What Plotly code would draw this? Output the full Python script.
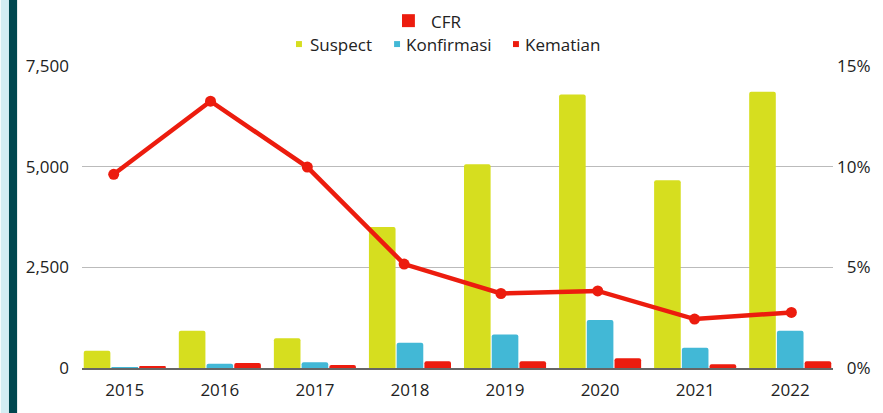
import plotly.graph_objects as go

years = ["2015", "2016", "2017", "2018", "2019", "2020", "2021", "2022"]
suspect = [429, 925, 736, 3504, 5058, 6794, 4662, 6861]
konfirmasi = [20, 107, 141, 630, 835, 1190, 503, 925]
kematian = [42, 124, 74, 168, 168, 240, 95, 168]
cfr = [9.62, 13.25, 9.98, 5.16, 3.70, 3.83, 2.43, 2.76]
left_ticks = [0, 2500, 5000, 7500]
right_ticks = [0, 5, 10, 15]
right_labels = ["\u20070%", "\u20075%", "10%", "15%"]

C_SUS = "#D6DE1F"
C_KON = "#42B8D6"
C_RED = "#EC1C0E"
FONT = "Open Sans"
TXT = "#222222"

W, H = 883, 413
L, R, T, B = 82, 43, 66, 44
PW, PH = W - L - R, H - T - B


def px(x):
    return (x - L) / PW


def py(y):
    return (H - B - y) / PH


idx = list(range(len(years)))
fig = go.Figure()
for name, vals, col in [("Suspect", suspect, C_SUS), ("Konfirmasi", konfirmasi, C_KON), ("Kematian", kematian, C_RED)]:
    fig.add_trace(go.Bar(x=idx, y=vals, name=name, marker=dict(color=col, cornerradius=2, line=dict(width=0)),
                         showlegend=False, xaxis="x", yaxis="y"))

fig.add_trace(go.Scatter(x=idx, y=cfr, name="CFR", mode="lines+markers",
                         line=dict(color=C_RED, width=4.5), marker=dict(color=C_RED, size=11),
                         showlegend=False, xaxis="x2", yaxis="y2"))

fig.update_layout(
    width=W, height=H, margin=dict(l=L, r=R, t=T, b=B),
    paper_bgcolor="white", plot_bgcolor="white",
    barmode="group", bargap=0.125, bargroupgap=0.04,
    font=dict(family=FONT, size=17, color=TXT),
    xaxis=dict(range=[-0.45, 7.45], tickvals=idx, ticktext=years, showgrid=False, zeroline=False,
               showline=True, linecolor="#666666", linewidth=1.5, ticks="", ticklabelstandoff=6,
               tickfont=dict(family=FONT, size=17, color=TXT)),
    xaxis2=dict(range=[-0.3275, 7.43], overlaying="x", visible=False),
    yaxis=dict(range=[0, 7500], tickvals=left_ticks, tickformat=",d", showgrid=True, gridcolor="#BBBBBB",
               gridwidth=1, zeroline=False, showline=False, ticks="", ticklabelstandoff=12,
               tickfont=dict(family=FONT, size=17, color=TXT)),
    yaxis2=dict(range=[0, 15], overlaying="y", side="right", tickmode="array", tickvals=right_ticks,
                ticktext=right_labels, showgrid=False, zeroline=False, showline=False, ticks="",
                ticklabelstandoff=3, tickfont=dict(family=FONT, size=17, color=TXT)),
)

# left decorative strips
fig.add_shape(type="rect", xref="paper", yref="paper", x0=px(0), x1=px(8.3), y0=py(H + 5), y1=py(-5),
              fillcolor="#D3EDF3", line=dict(width=0), layer="above")
fig.add_shape(type="rect", xref="paper", yref="paper", x0=px(8.3), x1=px(16.5), y0=py(H + 5), y1=py(-5),
              fillcolor="#00474F", line=dict(width=0), layer="above")

# legend (manual)
fig.add_shape(type="rect", xref="paper", yref="paper", x0=px(405), x1=px(418), y0=py(27), y1=py(14),
              fillcolor=C_RED, line=dict(width=0))
fig.add_annotation(x=px(432), y=py(21), xref="paper", yref="paper", text="CFR", showarrow=False,
                   xanchor="left", yanchor="middle", font=dict(family=FONT, size=17, color=TXT))
for sx, tx, label, col in [(298, 310, "Suspect", C_SUS), (397, 407, "Konfirmasi", C_KON), (517, 527, "Kematian", C_RED)]:
    fig.add_shape(type="rect", xref="paper", yref="paper", x0=px(sx), x1=px(sx + 6), y0=py(47), y1=py(41),
                  fillcolor=col, line=dict(width=0))
    fig.add_annotation(x=px(tx), y=py(44), xref="paper", yref="paper", text=label, showarrow=False,
                       xanchor="left", yanchor="middle", font=dict(family=FONT, size=17, color=TXT))

fig.write_html("out.html", config={"displayModeBar": False},
               post_script="document.body.style.margin='0px';document.body.style.overflow='hidden';")
